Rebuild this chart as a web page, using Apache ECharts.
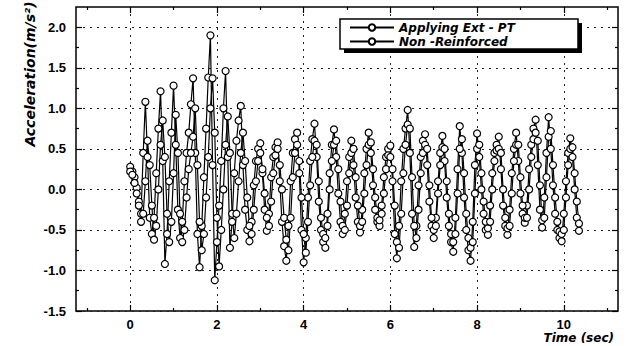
<!DOCTYPE html>
<html><head><meta charset="utf-8">
<script src="https://cdn.jsdelivr.net/npm/echarts@6/dist/echarts.min.js"></script>
<style>html,body{margin:0;padding:0;background:#fff}#c{width:627px;height:346px}</style>
</head><body><div id="c"></div>
<script>
const seriesNames = ['Applying Ext - PT', 'Non -Reinforced'];
const t0 = 0, dt = 0.05; // sampling of the records (s)

const applyingExtPT = [
  0.28, 0.22, 0.15, 0.02, -0.15, -0.30, 0.45, 1.08, 0.40, -0.35,
  -0.55, -0.35, 0.20, 0.75, 1.21, 0.35, -0.92, -0.55, 0.10, 0.70,
  1.28, 0.55, -0.25, -0.60, -0.40, 0.10, 0.45, 0.70, 1.05, 1.37,
  0.45, -0.55, -0.96, -0.45, 0.15, 0.75, 1.38, 1.90, 0.30, -1.12,
  -0.65, -0.20, 0.35, 1.00, 1.46, 0.40, -0.72, -0.40, 0.20, 0.60,
  0.85, 1.03, 0.30, -0.25, -0.50, -0.64, -0.40, 0.05, 0.35, 0.50,
  0.57, 0.20, -0.25, -0.51, -0.30, 0.15, 0.40, 0.52, 0.58, 0.10,
  -0.40, -0.70, -0.88, -0.45, 0.10, 0.45, 0.62, 0.70, 0.20, -0.50,
  -0.90, -0.60, -0.10, 0.35, 0.62, 0.81, 0.40, -0.15, -0.50, -0.65,
  -0.72, -0.30, 0.20, 0.55, 0.74, 0.40, -0.05, -0.40, -0.55, -0.30,
  0.10, 0.40, 0.60, 0.30, -0.10, -0.40, -0.53, -0.25, 0.20, 0.50,
  0.70, 0.45, 0.05, -0.25, -0.40, -0.45, -0.20, 0.15, 0.40, 0.50,
  0.54, 0.10, -0.55, -0.85, -0.45, 0.10, 0.50, 0.75, 0.98, 0.45,
  -0.30, -0.71, -0.45, 0.05, 0.40, 0.60, 0.68, 0.30, -0.15, -0.45,
  -0.60, -0.35, 0.10, 0.45, 0.66, 0.35, -0.10, -0.45, -0.65, -0.77,
  -0.35, 0.25, 0.78, 0.45, -0.10, -0.50, -0.75, -0.88, -0.40, 0.30,
  0.69, 0.40, 0.00, -0.30, -0.50, -0.56, -0.20, 0.20, 0.45, 0.55,
  0.65, 0.25, -0.20, -0.45, -0.56, -0.25, 0.20, 0.50, 0.70, 0.35,
  -0.05, -0.30, -0.41, -0.20, 0.25, 0.55, 0.75, 0.86, 0.30, -0.25,
  -0.47, -0.10, 0.45, 0.89, 0.50, 0.05, -0.30, -0.50, -0.60, -0.64,
  -0.30, 0.10, 0.45, 0.63, 0.40, 0.00, -0.35, -0.51
];

const nonReinforced = [
  0.22, 0.18, 0.08, -0.05, -0.20, -0.40, -0.30, 0.10, 0.60, 0.30,
  -0.20, -0.62, -0.45, 0.00, 0.55, 0.85, 0.40, -0.30, -0.65, -0.40,
  0.20, 0.92, 0.45, -0.30, -0.65, -0.50, -0.10, 0.25, 0.45, 0.65,
  1.00, 0.30, -0.40, -0.75, -0.55, -0.10, 0.40, 1.00, 1.37, 0.70,
  -0.35, -0.95, -0.50, 0.00, 0.55, 0.90, 0.45, -0.30, -0.60, -0.30,
  0.10, 0.45, 0.70, 0.35, -0.10, -0.45, -0.55, -0.25, 0.10, 0.35,
  0.45, 0.25, -0.05, -0.35, -0.45, -0.15, 0.20, 0.42, 0.50, 0.30,
  0.00, -0.35, -0.62, -0.75, -0.35, 0.15, 0.45, 0.55, 0.35, -0.10,
  -0.55, -0.78, -0.40, 0.05, 0.40, 0.60, 0.55, 0.10, -0.35, -0.55,
  -0.60, -0.45, 0.00, 0.35, 0.55, 0.60, 0.25, -0.15, -0.45, -0.50,
  -0.20, 0.20, 0.45, 0.50, 0.15, -0.20, -0.45, -0.40, -0.05, 0.30,
  0.55, 0.58, 0.25, -0.10, -0.35, -0.38, -0.30, -0.05, 0.25, 0.42,
  0.40, 0.25, -0.20, -0.65, -0.72, -0.30, 0.20, 0.55, 0.80, 0.75,
  0.15, -0.45, -0.60, -0.25, 0.20, 0.45, 0.55, 0.50, 0.05, -0.35,
  -0.50, -0.45, -0.05, 0.30, 0.52, 0.50, 0.10, -0.30, -0.55, -0.65,
  -0.55, -0.05, 0.50, 0.62, 0.20, -0.30, -0.60, -0.72, -0.65, -0.05,
  0.50, 0.55, 0.20, -0.15, -0.40, -0.48, -0.40, 0.00, 0.35, 0.48,
  0.50, 0.45, 0.00, -0.35, -0.48, -0.45, -0.05, 0.35, 0.55, 0.55,
  0.15, -0.20, -0.35, -0.35, 0.00, 0.40, 0.62, 0.70, 0.60, 0.05,
  -0.38, -0.35, 0.15, 0.65, 0.72, 0.30, -0.10, -0.40, -0.52, -0.55,
  -0.50, -0.10, 0.30, 0.50, 0.52, 0.20, -0.15, -0.42
];

const xMajorTicks = [0, 2, 4, 6, 8, 10];
const xMinorTicks = [-1, 1, 3, 5, 7, 9, 11];
const yMajorTicks = [-1.5, -1.0, -0.5, 0.0, 0.5, 1.0, 1.5, 2.0];
const yMinorTicks = [-1.25, -0.75, -0.25, 0.25, 0.75, 1.25, 1.75];
const yTitle = 'Acceleration(m/s\u00B2)';
const xTitle = 'Time (sec)';

const X_MIN = -1.25, X_MAX = 11.25, Y_MIN = -1.5, Y_MAX = 2.25;

function pairs(vals) {
  return vals.map((v, i) => [+(t0 + i * dt).toFixed(2), v]);
}

const labelFont = { color: '#000', fontFamily: 'Liberation Sans, Arial, sans-serif', fontWeight: 'bold', fontSize: 13 };
const splitStyle = { color: '#222', width: 1, type: [2, 5] };
const headFont = '"DejaVu Sans", Verdana, sans-serif';

function axis(kind, pos, ticks, len, withLabels, withSplit) {
  const isX = kind === 'x';
  return {
    type: 'value', position: pos,
    min: isX ? X_MIN : Y_MIN, max: isX ? X_MAX : Y_MAX,
    axisLine: { show: false, onZero: false },
    axisTick: { show: true, inside: true, length: len, customValues: ticks, lineStyle: { color: '#000', width: 1.2 } },
    axisLabel: Object.assign({ show: withLabels, customValues: ticks, margin: isX ? 7 : 10,
      formatter: isX ? (v) => String(v) : (v) => v.toFixed(1) }, labelFont),
    splitLine: { show: withSplit, lineStyle: splitStyle },
    minorTick: { show: false }, minorSplitLine: { show: false }
  };
}

const chart = echarts.init(document.getElementById('c'), null, { renderer: 'svg' });
chart.setOption({
  animation: false,
  backgroundColor: '#fff',
  grid: { left: 76, top: 7, right: 9, bottom: 35, show: true, borderColor: '#000', borderWidth: 1.5, backgroundColor: 'transparent' },
  xAxis: [
    axis('x', 'bottom', xMajorTicks, 6, true, true),
    axis('x', 'bottom', xMinorTicks, 3, false, false),
    axis('x', 'top', xMajorTicks, 6, false, false),
    axis('x', 'top', xMinorTicks, 3, false, false)
  ],
  yAxis: [
    axis('y', 'left', yMajorTicks, 6, true, true),
    axis('y', 'left', yMinorTicks, 3, false, false),
    axis('y', 'right', yMajorTicks, 6, false, false),
    axis('y', 'right', yMinorTicks, 3, false, false)
  ],
  legend: {
    z: 10,
    orient: 'vertical', left: 349, top: 21,
    data: seriesNames,
    backgroundColor: 'transparent', borderWidth: 0,
    padding: 0, itemWidth: 44, itemHeight: 8, itemGap: 1,
    textStyle: { color: '#000', fontFamily: headFont, fontWeight: 'bold', fontStyle: 'italic', fontSize: 12, lineHeight: 13 }
  },
  graphic: [
    { type: 'rect', z: 5, shape: { x: 344, y: 23, width: 238, height: 30 }, style: { fill: '#000' } },
    { type: 'rect', z: 6, shape: { x: 340, y: 19, width: 238, height: 30 }, style: { fill: '#fff', stroke: '#000', lineWidth: 1.5 } },
    { type: 'text', x: 30, y: 74, rotation: Math.PI / 2,
      style: { text: yTitle, fill: '#000', font: 'italic bold 14px ' + headFont, align: 'center', verticalAlign: 'middle' } },
    { type: 'text', x: 614, y: 338,
      style: { text: xTitle, fill: '#000', font: 'italic bold 12px ' + headFont, align: 'right', verticalAlign: 'middle' } }
  ],
  series: [
    { name: seriesNames[0], data: pairs(applyingExtPT) },
    { name: seriesNames[1], data: pairs(nonReinforced) }
  ].map(s => Object.assign({
    type: 'line', xAxisIndex: 0, yAxisIndex: 0,
    symbol: 'circle', symbolSize: 7, showSymbol: true, showAllSymbol: true,
    lineStyle: { color: '#000', width: 1.2 },
    itemStyle: { color: '#fff', borderColor: '#000', borderWidth: 1.2 },
    emphasis: { disabled: true }
  }, s))
});
</script></body></html>
